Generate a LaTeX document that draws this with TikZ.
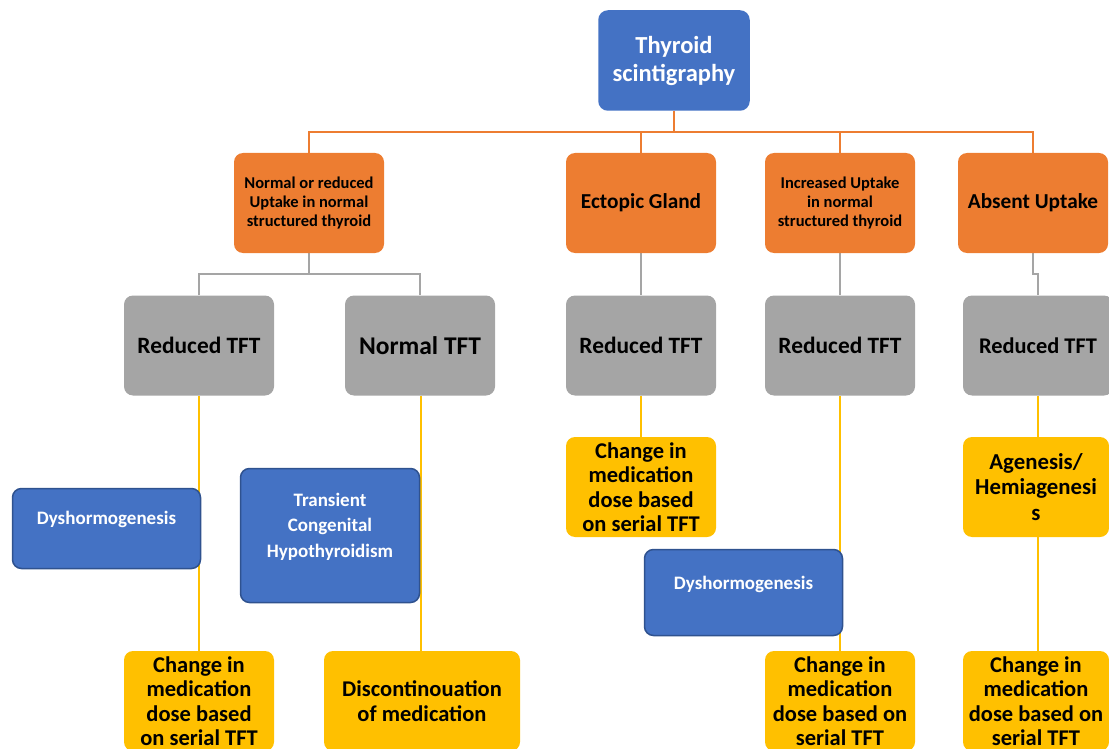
\documentclass[tikz,border=0pt]{standalone}
\usepackage{fontspec}
\setmainfont{Carlito}
\usetikzlibrary{backgrounds}
\definecolor{cblue}{HTML}{4472C4}
\definecolor{cbluedk}{HTML}{2F528F}
\definecolor{corange}{HTML}{ED7D31}
\definecolor{cgray}{HTML}{A5A5A5}
\definecolor{cyellow}{HTML}{FFC000}
\tikzset{
  box/.style={rounded corners=9pt, inner sep=0pt, align=center, font=\bfseries},
  bluebox/.style={box, fill=cblue, draw=cbluedk, line width=1.5pt, text=white},
  orangebox/.style={box, fill=corange, minimum width=150pt, minimum height=100pt},
  graybox/.style={box, fill=cgray, minimum width=150pt, minimum height=100pt},
  yellowbox/.style={box, fill=cyellow, minimum width=150pt, minimum height=100pt},
  oline/.style={draw=corange, line width=2pt},
  gline/.style={draw=cgray, line width=2pt},
  yline/.style={draw=cyellow, line width=1.5pt},
  fbig/.style={font=\fontsize{22.5}{24.5}\selectfont\bfseries},
  fsmall/.style={font=\fontsize{16.5}{19}\selectfont\bfseries},
  fmid/.style={font=\fontsize{19}{25.5}\selectfont\bfseries},
  txt/.style={align=center, inner sep=0pt},
}
\begin{document}
\begin{tikzpicture}[x=1pt, y=-1pt]
\clip (0,0) rectangle (1109,749);
\useasboundingbox (0,0) rectangle (1109,749);
% top
\node[bluebox, minimum width=150pt, minimum height=99pt, draw=cblue, font=\fontsize{24.5}{28}\selectfont\bfseries, text=white] (thy) at (674,60.5) {Thyroid\\scintigraphy};
% orange row
\node[orangebox, fsmall] (o1) at (309,203) {Normal or reduced\\Uptake in normal\\structured thyroid};
\node[orangebox, font=\fontsize{21.3}{25}\selectfont\bfseries] (o2) at (641,203) {Ectopic Gland};
\node[orangebox, fsmall] (o3) at (840,203) {Increased Uptake\\in normal\\structured thyroid};
\node[orangebox, font=\fontsize{21.3}{25}\selectfont\bfseries] (o4) at (1033,203) {Absent Uptake};
% gray row
\node[graybox, font=\fontsize{23.4}{27}\selectfont\bfseries] (g1) at (199,345.5) {Reduced TFT};
\node[graybox, font=\fontsize{25.5}{29}\selectfont\bfseries] (g2) at (420,345.5) {Normal TFT};
\node[graybox, font=\fontsize{23.4}{27}\selectfont\bfseries] (g3) at (641,345.5) {Reduced TFT};
\node[graybox, font=\fontsize{23.4}{27}\selectfont\bfseries] (g4) at (840,345.5) {Reduced TFT};
\node[graybox, font=\fontsize{22.4}{26}\selectfont\bfseries] (g5) at (1038,345.5) {Reduced TFT};
% yellow boxes
\node[yellowbox, fbig] (y3) at (641,487) {Change in\\medication\\dose based\\on serial TFT};
\node[yellowbox, minimum width=146pt, font=\fontsize{22.8}{25.5}\selectfont\bfseries] (ag) at (1036,487) {Agenesis/\\Hemiagenesi\\s};
\node[yellowbox, fbig] (y1) at (199,701) {Change in\\medication\\dose based\\on serial TFT};
\node[yellowbox, minimum width=196pt, fbig] (y2) at (422,701) {Discontinouation\\of medication};
\node[yellowbox, fbig] (y4) at (840,701) {Change in\\medication\\dose based on\\serial TFT};
\node[yellowbox, minimum width=146pt, fbig] (y5) at (1036,701) {Change in\\medication\\dose based on\\serial TFT};
% blue boxes
\node[bluebox, minimum width=188pt, minimum height=80pt] (d1) at (106.5,528.5) {};
\node[txt, fmid, text=white] at (106.5,519) {Dyshormogenesis};
\node[bluebox, minimum width=179pt, minimum height=134pt] (tc) at (330,535.5) {};
\node[txt, fmid, text=white] at (330,526.5) {Transient\\Congenital\\Hypothyroidism};
\node[bluebox, minimum width=198pt, minimum height=86pt] (d2) at (743.5,592.5) {};
\node[txt, fmid, text=white] at (743.5,584) {Dyshormogenesis};
% connectors
\begin{pgfonlayer}{background}
\coordinate (bus) at (674,132);
\draw[oline] (thy.south) -- (bus);
\draw[oline] (o1.north) |- (bus) -| (o4.north);
\draw[oline] (o2.north) -- (o2.north |- bus);
\draw[oline] (o3.north) -- (o3.north |- bus);
\coordinate (gbus) at (309,274);
\draw[gline] (o1.south) -- (gbus);
\draw[gline] (g1.north) |- (gbus) -| (g2.north);
\draw[gline] (o2.south) -- (g3.north);
\draw[gline] (o3.south) -- (g4.north);
\draw[gline] (o4.south) -- ++(0,21) -| (g5.north);
\draw[yline] (g1.south) -- (y1.north);
\draw[yline] (g2.south -| 421,0) -- (y2.north -| 421,0);
\draw[yline] (g3.south) -- (y3.north);
\draw[yline] (g4.south) -- (y4.north);
\draw[yline] (g5.south) -- (ag.north -| g5.south);
\draw[yline] (ag.south -| g5.south) -- (y5.north -| g5.south);
\end{pgfonlayer}
\end{tikzpicture}
\end{document}
